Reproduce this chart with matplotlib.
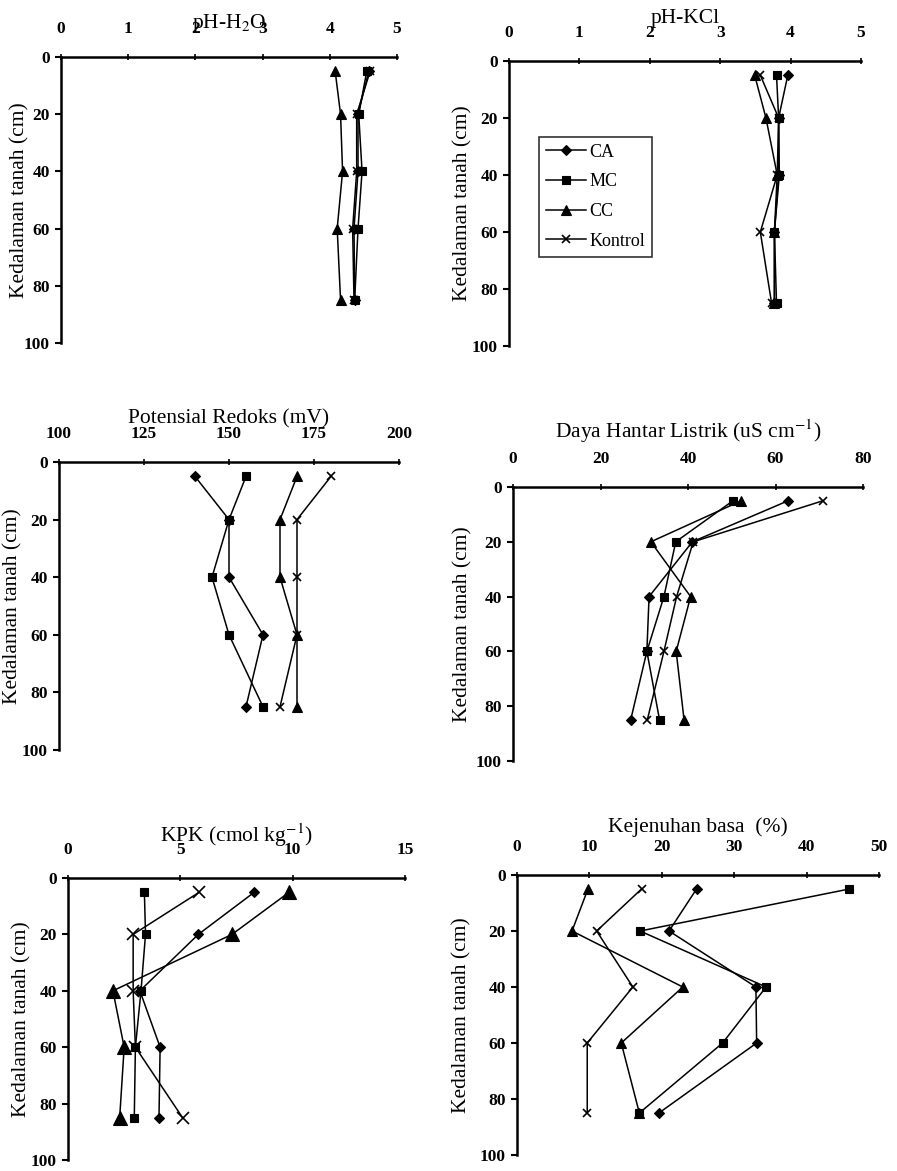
import matplotlib
matplotlib.use('Agg')
import matplotlib.pyplot as plt

plt.rcParams['font.family'] = ['Liberation Serif', 'DejaVu Serif']
plt.rcParams['mathtext.fontset'] = 'stix'

W, H = 897, 1171
DPI = 100
PT = 72.0 / DPI  # points per pixel

# kedalaman tanah (cm)
depth = [5, 20, 40, 60, 85]
series = ['CA', 'MC', 'CC', 'Kontrol']

# pH-H2O
ph_h2o_ca = [4.58, 4.42, 4.42, 4.36, 4.37]
ph_h2o_mc = [4.55, 4.43, 4.48, 4.42, 4.37]
ph_h2o_cc = [4.08, 4.16, 4.19, 4.11, 4.16]
ph_h2o_kontrol = [4.60, 4.40, 4.40, 4.34, 4.36]

# pH-KCl
ph_kcl_ca = [3.96, 3.83, 3.84, 3.77, 3.77]
ph_kcl_mc = [3.80, 3.83, 3.83, 3.77, 3.80]
ph_kcl_cc = [3.49, 3.65, 3.81, 3.77, 3.77]
ph_kcl_kontrol = [3.57, 3.83, 3.81, 3.57, 3.73]

# Potensial Redoks (mV)
redoks_ca = [140, 150, 150, 160, 155]
redoks_mc = [155, 150, 145, 150, 160]
redoks_cc = [170, 165, 165, 170, 170]
redoks_kontrol = [180, 170, 170, 170, 165]

# Daya Hantar Listrik (uS/cm)
dhl_ca = [62.9, 41.0, 31.1, 30.6, 26.9]
dhl_mc = [50.3, 37.2, 34.5, 30.6, 33.5]
dhl_cc = [52.2, 31.5, 40.6, 37.3, 39.1]
dhl_kontrol = [70.9, 41.2, 37.4, 34.5, 30.7]

# KPK (cmol/kg)
kpk_ca = [8.3, 5.8, 3.2, 4.1, 4.05]
kpk_mc = [3.4, 3.45, 3.25, 3.0, 2.95]
kpk_cc = [9.85, 7.3, 2.0, 2.5, 2.3]
kpk_kontrol = [5.85, 2.9, 2.9, 3.0, 5.1]

# Kejenuhan basa (%)
kb_ca = [24.8, 21.0, 33.0, 33.1, 19.6]
kb_mc = [45.9, 17.0, 34.4, 28.4, 16.9]
kb_cc = [9.8, 7.6, 22.9, 14.4, 16.9]
kb_kontrol = [17.2, 11.0, 16.0, 9.7, 9.7]

markers = {'CA': ('D', 5), 'MC': ('s', 6), 'CC': ('^', 7), 'Kontrol': ('x', 6)}

panels = [
    # judul, data, xlim, xticks, kotak (kiri, atas, kanan, bawah px), offset judul px, posisi x label-y px
    ('pH-H$_2$O', [ph_h2o_ca, ph_h2o_mc, ph_h2o_cc, ph_h2o_kontrol],
     (0, 5), [0, 1, 2, 3, 4, 5], (61, 57, 397, 343), 29, 20),
    ('pH-KCl', [ph_kcl_ca, ph_kcl_mc, ph_kcl_cc, ph_kcl_kontrol],
     (0, 5), [0, 1, 2, 3, 4, 5], (509, 61, 861, 346), 38, 463),
    ('Potensial Redoks (mV)', [redoks_ca, redoks_mc, redoks_cc, redoks_kontrol],
     (100, 200), [100, 125, 150, 175, 200], (59, 462, 399, 750), 39, 13),
    ('Daya Hantar Listrik (uS cm$^{-1}$)', [dhl_ca, dhl_mc, dhl_cc, dhl_kontrol],
     (0, 80), [0, 20, 40, 60, 80], (513, 487, 863, 761), 49, 463),
    ('KPK (cmol kg$^{-1}$)', [kpk_ca, kpk_mc, kpk_cc, kpk_kontrol],
     (0, 15), [0, 5, 10, 15], (68, 878, 405, 1160), 36, 22),
    ('Kejenuhan basa  (%)', [kb_ca, kb_mc, kb_cc, kb_kontrol],
     (0, 50), [0, 10, 20, 30, 40, 50], (517, 875, 879, 1155), 43, 462),
]

fig = plt.figure(figsize=(W / DPI, H / DPI), dpi=DPI)

for i, (title, data, xlim, xticks, box, toff, ylx) in enumerate(panels):
    l, t, r, b = box
    ax = fig.add_axes([l / W, 1 - b / H, (r - l) / W, (b - t) / H])
    for name, vals in zip(series, data):
        m, ms = markers[name]
        if i == 4 and name in ('CC', 'Kontrol'):
            ms += 3
        ax.plot(vals, depth, color='black', lw=1.1, marker=m, markersize=ms,
                markeredgewidth=1.2 if name == 'Kontrol' else 0.8, label=name)
    ax.set_xlim(*xlim)
    ax.set_ylim(100, 0)
    ax.set_xticks(xticks)
    ax.set_yticks([0, 20, 40, 60, 80, 100])
    ax.xaxis.tick_top()
    for s in ('right', 'bottom'):
        ax.spines[s].set_visible(False)
    for s in ('left', 'top'):
        ax.spines[s].set_linewidth(1.8)
    ax.tick_params(axis='x', direction='inout', length=5, width=1.2, pad=12,
                   labelsize=12.5)
    ax.tick_params(axis='y', direction='out', length=4, width=1.5, pad=4,
                   labelsize=12.5)
    for lab in ax.get_xticklabels() + ax.get_yticklabels():
        lab.set_fontweight('bold')
    ax.annotate(title, xy=(0.5, 1), xycoords='axes fraction',
                xytext=(0, toff * PT), textcoords='offset points',
                ha='center', va='baseline', fontsize=15.5)
    ax.text((ylx - l) / (r - l), 0.5, 'Kedalaman tanah (cm)', transform=ax.transAxes,
            rotation=90, ha='center', va='center', fontsize=15.5)
    if i == 1:
        leg = ax.legend(loc='upper left', bbox_to_anchor=(0.085, 0.735), frameon=True,
                        fancybox=False, edgecolor='black', fontsize=13,
                        handlelength=2.2, handletextpad=0.2, labelspacing=0.7,
                        borderpad=0.4, borderaxespad=0)
        leg.get_frame().set_linewidth(1.2)

fig.savefig('out.png', dpi=DPI)
